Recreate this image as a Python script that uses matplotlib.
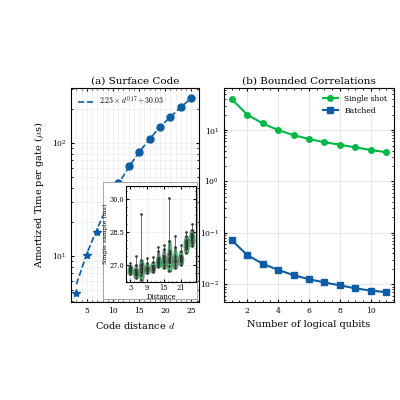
import matplotlib
matplotlib.use("Agg")
import matplotlib.pyplot as plt
from matplotlib.patches import Rectangle
import numpy as np

plt.rcParams['font.family'] = 'DejaVu Serif'
plt.rcParams['mathtext.fontset'] = 'cm'
plt.rcParams['xtick.direction'] = 'in'
plt.rcParams['ytick.direction'] = 'in'
plt.rcParams['xtick.top'] = True
plt.rcParams['ytick.right'] = True
plt.rcParams['xtick.minor.visible'] = True
plt.rcParams['ytick.minor.visible'] = True

blue = '#0C5DA5'
green = '#00B945'

# (a) surface code
dist = [3, 5, 7, 9, 11, 13, 15, 17, 19, 21, 23, 25]
amort = [4.7, 10.2, 16.3, 30, 44, 62, 83, 108, 139, 170, 208, 250]
fit = [5.6, 10.5, 17.5, 28, 43, 61, 83, 108, 139, 170, 208, 250]
star_d = dist[:3]
light_d = dist[3]

# inset: single sample times (ms) per distance
samples = {
    3: [26.55, 26.65, 26.7, 26.75, 26.8, 26.85, 26.95, 27.05],
    5: [26.4, 26.5, 26.55, 26.6, 26.65, 26.75, 27.0, 27.4],
    7: [26.3, 26.5, 26.65, 26.75, 26.85, 27.0, 27.2, 29.3],
    9: [26.6, 26.7, 26.75, 26.8, 26.85, 26.9, 27.05, 27.3],
    11: [26.65, 26.75, 26.8, 26.85, 26.9, 26.95, 27.1, 27.35],
    13: [26.9, 27.0, 27.05, 27.1, 27.15, 27.25, 27.6, 27.8],
    15: [26.85, 27.0, 27.1, 27.15, 27.2, 27.35, 27.7, 27.9],
    17: [26.7, 26.95, 27.1, 27.2, 27.3, 27.5, 28.1, 30.05],
    19: [26.85, 27.0, 27.1, 27.15, 27.2, 27.35, 27.8, 28.3],
    21: [27.0, 27.1, 27.2, 27.25, 27.3, 27.4, 27.6, 27.9],
    23: [27.55, 27.7, 27.8, 27.9, 28.0, 28.1, 28.3, 28.5],
    25: [27.85, 28.0, 28.1, 28.2, 28.3, 28.4, 28.6, 28.85],
}

# (b) bounded correlations
qubits = [1, 2, 3, 4, 5, 6, 7, 8, 9, 10, 11]
single = [40, 20, 13.5, 10, 8, 6.7, 5.8, 5.2, 4.6, 4.1, 3.7]
batched = [0.072, 0.037, 0.025, 0.019, 0.015, 0.0125, 0.0108, 0.0095, 0.0083, 0.0075, 0.007]

fig = plt.figure(figsize=(4, 4), dpi=100)
ax1 = fig.add_axes([0.178, 0.245, 0.32, 0.535])
ax2 = fig.add_axes([0.56, 0.245, 0.425, 0.535])

ax1.plot(dist, fit, '--', color=blue, lw=1.2, label=r'$2.23\times d^{0.17}+30.03$')
for d, a in zip(dist, amort):
    if d in star_d:
        ax1.plot(d, a, '*', color=blue, ms=6)
    elif d == light_d:
        ax1.plot(d, a, 'o', color='#8fb3d9', ms=5)
    else:
        ax1.plot(d, a, 'o', color=blue, ms=5)
ax1.set_yscale('log')
ax1.set_ylim(3.9, 307)
ax1.set_xlim(2, 26.5)
ax1.set_xticks([5, 10, 15, 20, 25])
ax1.grid(True, which='both', color='#e6e6e6', lw=0.4)
ax1.set_xlabel(r'Code distance $d$', fontsize=7)
ax1.set_ylabel(r'Amortized Time per gate ($\mu$s)', fontsize=7)
ax1.set_title('(a) Surface Code', fontsize=7.5, pad=3)
ax1.tick_params(labelsize=5.5, length=2.5)
ax1.tick_params(which='minor', length=1.3)
ax1.legend(loc='upper left', fontsize=5.5, frameon=False)

# white box behind inset
fig.patches.append(Rectangle((0.258, 0.252), 0.235, 0.292, transform=fig.transFigure,
                             facecolor='white', edgecolor='#999999', lw=0.6, zorder=2))

ins = fig.add_axes([0.315, 0.295, 0.175, 0.24])
ins.set_zorder(3)
data = [samples[d] for d in dist]
core = [sorted(s)[:7] for s in data]
vp = ins.violinplot(core, positions=dist, widths=1.8, showextrema=False, bw_method=0.9)
for b in vp['bodies']:
    b.set_facecolor(green)
    b.set_edgecolor('#2a6a3a')
    b.set_alpha(0.6)
ins.boxplot(data, positions=dist, widths=0.35, patch_artist=True, whis=(0, 100),
            boxprops=dict(facecolor='#333333', color='#333333'),
            medianprops=dict(color='#333333'),
            whiskerprops=dict(color='#555555', lw=0.6),
            capprops=dict(lw=0),
            manage_ticks=False)
for d in dist:
    ins.plot([d] * len(samples[d]), samples[d], '.', color='#333333', ms=1.8)
ins.set_xticks([3, 9, 15, 21])
ins.set_yticks([27.0, 28.5, 30.0])
ins.set_ylim(26.2, 30.6)
ins.set_xlim(1.5, 26.5)
ins.grid(True, color='#e6e6e6', lw=0.4)
ins.set_axisbelow(True)
ins.set_xlabel('Distance', fontsize=4.8, labelpad=1)
ins.set_ylabel('Single sample (ms)', fontsize=4.5, labelpad=1)
ins.tick_params(labelsize=4.8, length=2, pad=1.5)
ins.tick_params(which='minor', length=1)
ins.set_facecolor('white')

ax2.plot(qubits, single, '-o', color=green, lw=1.5, ms=4, label='Single shot')
ax2.plot(qubits, batched, '-s', color=blue, lw=1.5, ms=4, label='Batched')
ax2.set_yscale('log')
ax2.set_ylim(0.0045, 66)
ax2.set_xlim(0.5, 11.5)
ax2.set_xticks([2, 4, 6, 8, 10])
ax2.grid(True, which='major', color='#dddddd', lw=0.5)
ax2.set_xlabel('Number of logical qubits', fontsize=7)
ax2.set_title('(b) Bounded Correlations', fontsize=7.5, pad=3)
ax2.tick_params(labelsize=5.5, length=2.5)
ax2.tick_params(which='minor', length=1.3)
ax2.legend(loc='upper right', fontsize=5.5, frameon=False)

fig.savefig('out.png', dpi=100)
